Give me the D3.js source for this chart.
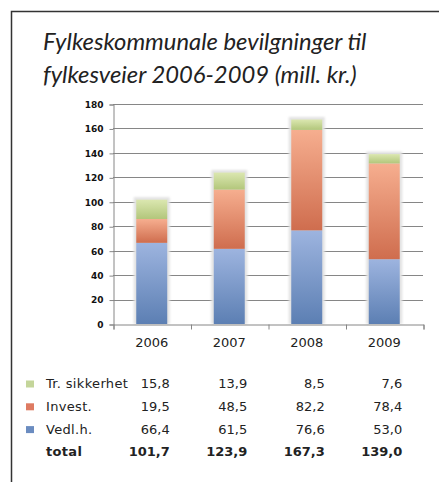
<!DOCTYPE html>
<html>
<head>
<meta charset="utf-8">
<script src="https://cdn.jsdelivr.net/npm/d3@7"></script>
<style>
  body { margin: 0; background: #fff; }
  svg { display: block; }
</style>
</head>
<body>
<svg id="chart" width="439" height="482"></svg>
<script>
const years = ["2006", "2007", "2008", "2009"];
const seriesNames = ["Vedl.h.", "Invest.", "Tr. sikkerhet"];
const vedlh = [66.4, 61.5, 76.6, 53.0];
const invest = [19.5, 48.5, 82.2, 78.4];
const trSikkerhet = [15.8, 13.9, 8.5, 7.6];
const totals = [101.7, 123.9, 167.3, 139.0];
const yTicks = [0, 20, 40, 60, 80, 100, 120, 140, 160, 180];
const titleLines = ["Fylkeskommunale bevilgninger til", "fylkesveier 2006-2009 (mill. kr.)"];

const PLOT = { left: 113, right: 423, top: 104, bottom: 324 };
const colors = {
  "Vedl.h.": { top: "#9db4df", bottom: "#5c7fb3", key: "#6b8cc0" },
  "Invest.": { top: "#f6ae8f", bottom: "#cf6d4e", key: "#de7b62" },
  "Tr. sikkerhet": { top: "#dbe7b0", bottom: "#b2c67b", key: "#c4d59a" }
};

const nb = d3.formatLocale({ decimal: ",", thousands: " ", grouping: [3], currency: ["", " kr"] });
const fmt = nb.format(".1f");

const rows = years.map((year, i) => ({
  year,
  "Vedl.h.": vedlh[i],
  "Invest.": invest[i],
  "Tr. sikkerhet": trSikkerhet[i]
}));

const svg = d3.select("#chart");

// frame
svg.append("path")
  .attr("d", "M11.5,482 V11.5 H439")
  .attr("fill", "none")
  .attr("stroke", "#333")
  .attr("stroke-width", 1.5);

// title
svg.append("g")
  .selectAll("text")
  .data(titleLines)
  .join("text")
  .attr("x", 43)
  .attr("y", (d, i) => 50 + i * 33)
  .attr("font-family", "Lato, 'Open Sans', sans-serif")
  .attr("font-style", "italic")
  .attr("font-size", 23.8)
  .attr("fill", "#222")
  .text(d => d);

const defs = svg.append("defs");
seriesNames.forEach((s, i) => {
  const g = defs.append("linearGradient")
    .attr("id", "grad" + i)
    .attr("x1", 0).attr("y1", 0).attr("x2", 0).attr("y2", 1);
  g.append("stop").attr("offset", "0%").attr("stop-color", colors[s].top);
  g.append("stop").attr("offset", "100%").attr("stop-color", colors[s].bottom);
});
defs.append("filter")
  .attr("id", "halo")
  .attr("x", "-30%").attr("y", "-30%").attr("width", "160%").attr("height", "160%")
  .append("feGaussianBlur")
  .attr("stdDeviation", 1);

const x = d3.scaleBand()
  .domain(years)
  .range([PLOT.left, PLOT.right])
  .paddingInner(0.6)
  .paddingOuter(0.3);

const y = d3.scaleLinear()
  .domain([0, 180])
  .range([PLOT.bottom, PLOT.top]);

// gridlines
svg.append("g")
  .selectAll("line")
  .data(yTicks.slice(1))
  .join("line")
  .attr("x1", PLOT.left)
  .attr("x2", PLOT.right)
  .attr("y1", d => Math.round(y(d)) + 0.5)
  .attr("y2", d => Math.round(y(d)) + 0.5)
  .attr("stroke", "#868686")
  .attr("stroke-width", 1);

// y axis
const yAxis = svg.append("g")
  .attr("transform", `translate(${PLOT.left + 0.5},0.5)`)
  .call(d3.axisLeft(y).tickValues(yTicks).tickSize(4).tickPadding(6));
yAxis.select(".domain").attr("stroke", "#868686");
yAxis.selectAll(".tick line").attr("stroke", "#868686");
yAxis.selectAll("text")
  .attr("font-family", "'DejaVu Sans', Verdana, sans-serif")
  .attr("font-weight", "bold")
  .attr("font-size", 9)
  .attr("fill", "#111");

// stacked bars
const stack = d3.stack().keys(seriesNames)(rows);

svg.append("g")
  .selectAll("rect")
  .data(rows)
  .join("rect")
  .attr("x", d => x(d.year) - 2.5)
  .attr("y", (d, i) => y(totals[i]) - 2.5)
  .attr("width", x.bandwidth() + 5)
  .attr("height", (d, i) => y(0) - y(totals[i]) + 2.5)
  .attr("fill", "#e2e2e2")
  .attr("filter", "url(#halo)");

svg.append("g")
  .selectAll("g")
  .data(stack)
  .join("g")
  .attr("fill", (d, i) => `url(#grad${i})`)
  .selectAll("rect")
  .data(d => d)
  .join("rect")
  .attr("x", d => x(d.data.year))
  .attr("y", d => y(d[1]))
  .attr("width", x.bandwidth())
  .attr("height", d => y(d[0]) - y(d[1]));

// x axis with ticks at category boundaries
const xb = d3.scaleLinear().domain([0, years.length]).range([PLOT.left, PLOT.right]);
const xAxis = svg.append("g")
  .attr("transform", `translate(0.5,${PLOT.bottom + 0.5})`)
  .call(d3.axisBottom(xb).ticks(years.length).tickSize(5).tickFormat(""));
xAxis.select(".domain").attr("stroke", "#868686");
xAxis.selectAll(".tick line").attr("stroke", "#868686");

svg.append("g")
  .selectAll("text")
  .data(years)
  .join("text")
  .attr("x", d => x(d) + x.bandwidth() / 2)
  .attr("y", 347)
  .attr("text-anchor", "middle")
  .attr("font-family", "'DejaVu Sans', Verdana, sans-serif")
  .attr("font-size", 13)
  .attr("fill", "#222")
  .text(d => d);

// data table
const tableRows = [
  { name: "Tr. sikkerhet", values: trSikkerhet, key: colors["Tr. sikkerhet"].key },
  { name: "Invest.", values: invest, key: colors["Invest."].key },
  { name: "Vedl.h.", values: vedlh, key: colors["Vedl.h."].key },
  { name: "total", values: totals, key: null, bold: true }
];

const table = svg.append("g")
  .attr("font-family", "'DejaVu Sans', Verdana, sans-serif")
  .attr("font-size", 13)
  .attr("fill", "#222");

const tr = table.selectAll("g")
  .data(tableRows)
  .join("g")
  .attr("transform", (d, i) => `translate(0,${388 + i * 22.8})`)
  .attr("font-weight", d => d.bold ? "bold" : "normal");

tr.filter(d => d.key)
  .append("rect")
  .attr("x", 26)
  .attr("y", -7.5)
  .attr("width", 8)
  .attr("height", 7)
  .attr("fill", d => d.key);

tr.append("text")
  .attr("x", 46)
  .attr("letter-spacing", 0.33)
  .text(d => d.name);

tr.selectAll("text.val")
  .data(d => d.values)
  .join("text")
  .attr("class", "val")
  .attr("x", (v, i) => x(years[i]) + x.bandwidth() / 2 + 18)
  .attr("text-anchor", "end")
  .text(v => fmt(v));
</script>
</body>
</html>
